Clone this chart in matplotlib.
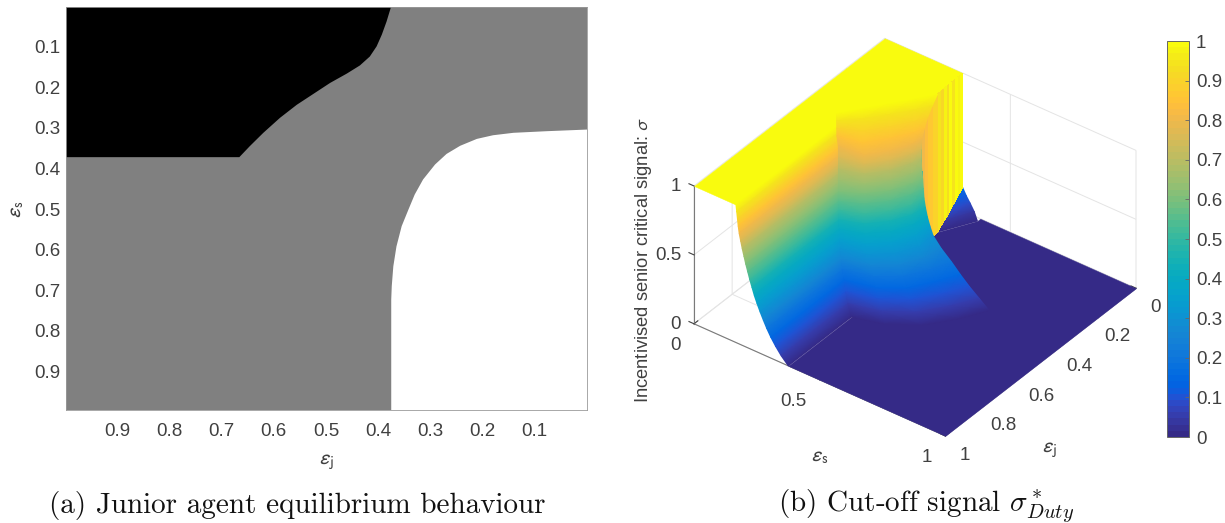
import numpy as np
import matplotlib
matplotlib.use('Agg')
import matplotlib.pyplot as plt
from matplotlib.colors import ListedColormap, Normalize
from matplotlib.cm import ScalarMappable
from matplotlib.collections import QuadMesh
from mpl_toolkits.mplot3d import proj3d
from mpl_toolkits.mplot3d.art3d import Poly3DCollection

plt.rcParams['font.family'] = ['Liberation Sans', 'DejaVu Sans']
W, H = 1225, 523
TXT = '#404040'

parula = [
(.2081,.1663,.5292),(.2116,.1898,.5777),(.2123,.2138,.6270),(.2081,.2386,.6771),
(.1959,.2645,.7279),(.1707,.2919,.7792),(.1253,.3242,.8303),(.0591,.3598,.8683),
(.0117,.3875,.8820),(.0060,.4086,.8828),(.0165,.4266,.8786),(.0329,.4430,.8720),
(.0498,.4586,.8641),(.0629,.4737,.8554),(.0723,.4887,.8467),(.0779,.5040,.8384),
(.0793,.5200,.8312),(.0749,.5375,.8263),(.0641,.5570,.8240),(.0488,.5772,.8228),
(.0343,.5966,.8199),(.0265,.6137,.8135),(.0239,.6287,.8038),(.0231,.6418,.7913),
(.0228,.6535,.7768),(.0267,.6642,.7607),(.0384,.6743,.7436),(.0590,.6838,.7254),
(.0843,.6928,.7062),(.1133,.7015,.6859),(.1453,.7098,.6646),(.1801,.7177,.6424),
(.2178,.7250,.6193),(.2586,.7317,.5954),(.3022,.7376,.5712),(.3482,.7424,.5473),
(.3953,.7459,.5244),(.4420,.7481,.5033),(.4871,.7491,.4840),(.5300,.7491,.4661),
(.5709,.7485,.4494),(.6099,.7473,.4337),(.6473,.7456,.4188),(.6834,.7435,.4044),
(.7184,.7411,.3905),(.7525,.7384,.3768),(.7858,.7356,.3633),(.8185,.7327,.3498),
(.8507,.7299,.3360),(.8824,.7274,.3217),(.9139,.7258,.3063),(.9450,.7261,.2886),
(.9739,.7314,.2666),(.9938,.7455,.2403),(.9990,.7653,.2164),(.9955,.7861,.1967),
(.9880,.8066,.1794),(.9789,.8271,.1633),(.9697,.8481,.1475),(.9626,.8705,.1309),
(.9589,.8949,.1132),(.9598,.9218,.0948),(.9661,.9514,.0755),(.9763,.9831,.0538)]
cmap = ListedColormap(parula, name='parula')
norm = Normalize(0, 1)

# ---- panel (a): region boundaries
black_ej = [1.0, .666, .646, .620, .588, .556, .524, .492, .460, .435, .416, .403, .393, .384, .375, 1.0]
black_es = [.372, .372, .345, .312, .275, .243, .216, .189, .166, .146, .124, .099, .070, .038, 0.0, 0.0]
white_ej = [.375, .375, .374, .371, .365, .355, .342, .330, .314, .291, .269, .243, .211, .180, .141, .077, 0.0, 0.0, .375]
white_es = [1.0, .723, .690, .641, .592, .542, .501, .464, .427, .390, .364, .344, .327, .318, .312, .308, .304, 1.0, 1.0]
a_ticks = [.1, .2, .3, .4, .5, .6, .7, .8, .9]
a_labels = ['0.1', '0.2', '0.3', '0.4', '0.5', '0.6', '0.7', '0.8', '0.9']

# ---- panel (b): surface, one row per height level
sheet_z = [1, .95, .9, .85, .8, .75, .7, .65, .6, .55, .5, .45, .4, .35, .3, .25, .2, .15, .1, .05, 0]
# left block: independent of ej, from the ej=1 edge to the crease
edge_es = [.167,.170,.173,.176,.180,.186,.192,.199,.206,.214,.222,.231,.240,.251,.263,.276,.290,.306,.325,.347,.375]
edge_ej_c = [.461,.465,.468,.473,.48,.488,.497,.505,.513,.522,.531,.542,.553,.566,.577,.589,.602,.615,.63,.648,.667]
# right block: from the crease round to the boundary of the white region
c_es = [.124,.126,.128,.13,.145,.16,.175,.19,.206,.214,.222,.231,.24,.251,.263,.276,.29,.306,.325,.347,.375]
c_ej = [.416,.418,.42,.422,.434,.453,.473,.493,.512,.521,.53,.542,.553,.565,.576,.589,.601,.614,.63,.648,.667]
m1_es = [.17,.18,.20,.22,.24,.247,.255,.265,.275,.285,.295,.307,.318,.333,.35,.37,.39,.41,.43,.455,.48]
m1_ej = [.35,.365,.385,.405,.425,.435,.447,.46,.472,.486,.50,.512,.525,.537,.549,.56,.572,.585,.60,.617,.635]
m2_es = [.22,.235,.255,.27,.292,.30,.31,.32,.33,.34,.35,.362,.377,.393,.415,.44,.465,.49,.515,.545,.577]
m2_ej = [.28,.295,.315,.335,.355,.367,.38,.395,.41,.425,.44,.452,.465,.477,.489,.50,.513,.527,.54,.555,.57]
m3_es = [.27,.285,.30,.312,.325,.332,.34,.352,.362,.373,.385,.397,.41,.43,.453,.48,.51,.54,.575,.612,.65]
m3_ej = [.21,.225,.245,.265,.285,.298,.31,.325,.34,.358,.375,.385,.395,.405,.415,.425,.435,.445,.453,.462,.47]
bnd_es = [.316,.318,.322,.328,.334,.342,.35,.362,.375,.385,.395,.407,.42,.434,.45,.49,.54,.58,.62,.66,.70]
bnd_ej = [.14,.17,.20,.225,.246,.26,.27,.283,.295,.305,.315,.323,.33,.335,.34,.35,.36,.367,.372,.374,.376]

plateau_es = [0, 0, .167, .167, .124, .17, .22, .27, .316, .31]
plateau_ej = [0, 1, 1, .461, .416, .35, .28, .21, .14, 0]
floor_es = [.375, .375, .31, .38, .38, 1, 1]
floor_ej = [1, .667, .15, .015, 0, 0, 1]

cliff_es = [.31, .3105, .311, .3115, .312, .3125, .313, .3135, .314, .316, .318, .322, .328, .334, .342, .35, .362, .375]
cliff_ej = [0, .015, .03, .045, .06, .075, .09, .105, .12, .14, .17, .20, .225, .246, .26, .27, .283, .295]
cliff_top = [1, 1, 1, 1, 1, 1, 1, 1, 1, 1, .95, .9, .85, .8, .75, .7, .65, .6]
cliff_bot = [.17, .15, .13, .11, .09, .07, .05, .035, .02, 0, 0, 0, 0, 0, 0, 0, 0, 0]
cliff_val = [1, .97, 1, .95, 1, .93, .98, .92, .95, .9, .86, .84, .8, .72, .62, .55, .45, .4]

patch_z = [.17, .12, .08, .04, 0]
patch_l_es = [.31, .31, .31, .31, .31]
patch_l_ej = [0, .045, .08, .115, .15]
patch_r_es = [.31, .325, .34, .36, .38]
patch_r_ej = [0, 0, 0, .005, .015]

fig = plt.figure(figsize=(W / 100, H / 100), dpi=100)

def box(x0, y0, x1, y1):
    return [x0 / W, 1 - y1 / H, (x1 - x0) / W, (y1 - y0) / H]

# ---------- left panel
ax = fig.add_axes(box(66, 7, 587, 410))
ax.set_facecolor('#808080')
ax.fill(black_ej, black_es, color='black', lw=0)
ax.fill(white_ej, white_es, color='white', lw=0)
ax.set_xlim(.998, .0)
ax.set_ylim(.995, .002)
ax.set_xticks(a_ticks[::-1], a_labels[::-1])
ax.set_yticks(a_ticks, a_labels)
ax.tick_params(length=0, labelsize=13.5, labelcolor=TXT, pad=9)
ax.tick_params(axis='y', pad=4)
for s in ax.spines.values():
    s.set_color('#9a9a9a')
    s.set_linewidth(.6)
fig.text(327 / W, 1 - 462 / H, r'$\epsilon_{\mathrm{j}}$', fontsize=15, color=TXT,
         ha='center', va='center', math_fontfamily='stixsans')
fig.text(17 / W, 1 - 209 / H, r'$\epsilon_{\mathrm{s}}$', fontsize=15, color=TXT, rotation=90,
         ha='center', va='center', math_fontfamily='stixsans')

# ---------- right panel
ax3 = fig.add_axes(box(600, 0, 1150, 523), projection='3d', computed_zorder=False, proj_type='ortho')
ax3.patch.set_alpha(0)
ax3.view_init(elev=36, azim=-52.8)
ax3.set_box_aspect((1, 1, .54), zoom=1)
ax3.set_xlim(0, 1, view_margin=0)
ax3.set_ylim(1, 0, view_margin=0)
ax3.set_zlim(0, 1, view_margin=0)

def poly(es, ej, z, color, zorder):
    v = [list(zip(es, ej, z))]
    pc = Poly3DCollection(v, facecolors=[color], edgecolors=[color], linewidths=.3, zorder=zorder)
    ax3.add_collection3d(pc)

def shaded(X, Y, Z, zorder):
    """The read mesh, projected by the axes and drawn with matplotlib's own Gouraud shading."""
    a, b, _ = proj3d.proj_transform(X.ravel(), Y.ravel(), Z.ravel(), ax3.get_proj())
    coords = np.dstack([np.reshape(a, X.shape), np.reshape(b, X.shape)])
    mesh = QuadMesh(coords, shading='gouraud', antialiased=False, cmap=cmap, norm=norm,
                    transform=ax3.transData, zorder=zorder)
    mesh.set_array(Z.ravel())
    mesh.set_clip_on(False)
    mesh.do_3d_projection = lambda: 0
    matplotlib.axes.Axes.add_collection(ax3, mesh, autolim=False)

poly(plateau_es, plateau_ej, [1] * len(plateau_es), cmap(1.0), 2)
poly(floor_es, floor_ej, [0] * len(floor_es), cmap(0.0), 3)

pz = np.array(patch_z)
shaded(np.column_stack([patch_l_es, patch_r_es]), np.column_stack([patch_l_ej, patch_r_ej]),
       np.column_stack([pz, pz]), 4)

CX = np.vstack([cliff_es, cliff_es])
CY = np.vstack([cliff_ej, cliff_ej])
CZ = np.vstack([cliff_top, cliff_bot])
cols = cmap(norm(np.vstack([cliff_val, cliff_val])))
ax3.plot_surface(CX, CY, CZ, rstride=1, cstride=1, facecolors=cols, shade=False, linewidth=0,
                 antialiased=False, zorder=5)

n = len(sheet_z)
LX = np.column_stack([edge_es, edge_es])
LY = np.column_stack([np.ones(n), edge_ej_c])
shaded(LX, LY, np.column_stack([sheet_z] * 2), 6)
SX = np.column_stack([c_es, m1_es, m2_es, m3_es, bnd_es])
SY = np.column_stack([c_ej, m1_ej, m2_ej, m3_ej, bnd_ej])
shaded(SX, SY, np.column_stack([sheet_z] * 5), 7)

ax3.set_xticks([0, .5, 1], ['0', '0.5', '1'])
ax3.set_yticks([0, .2, .4, .6, .8, 1], ['0', '0.2', '0.4', '0.6', '0.8', '1'])
ax3.set_zticks([0, .5, 1], ['0', '0.5', '1'])
ax3.tick_params(labelsize=13.5, labelcolor=TXT, colors=TXT)
ax3.tick_params(axis='x', pad=4)
ax3.tick_params(axis='y', pad=5)
ax3.tick_params(axis='z', pad=3)
ax3.zaxis._axinfo['juggled'] = (1, 2, 0)
for a in (ax3.xaxis, ax3.yaxis, ax3.zaxis):
    a.set_pane_color((1, 1, 1, 0))
    a.pane.set_edgecolor('#e4e4e4')
    a.pane.set_linewidth(.7)
    a.line.set_color('#7a7a7a')
    a.line.set_linewidth(.8)
    a._axinfo['grid'].update(color='#e4e4e4', linewidth=.7)
    a._axinfo['tick'].update(inward_factor=0, outward_factor=.25)
    a._axinfo['tick']['color'] = '#7a7a7a'

def nudge(axis, dx, dy, ha):
    """Shift a 3-D axis's own tick labels by some pixels at draw time."""
    for t in axis.get_major_ticks():
        lab = t.label1
        lab.set_ha(ha)
        def draw(renderer, lab=lab, orig=lab.draw):
            p = ax3.transData.transform(lab.get_position()) + (dx, dy)
            lab.set_position(ax3.transData.inverted().transform(p))
            orig(renderer)
        lab.draw = draw
nudge(ax3.xaxis, 0, 7, 'right')
nudge(ax3.yaxis, 1, 8, 'center')
nudge(ax3.zaxis, 15, 10, 'right')

fig.canvas.draw()
def px(x, y, z):
    a, b, _ = proj3d.proj_transform(x, y, z, ax3.get_proj())
    return ax3.transData.transform((a, b))
# fit the orthographic box onto the reference's left and right floor corners
pl, pr = px(0, 1, 0), px(1, 0, 0)
target_l = np.array([694, H - 324.0])
target_r = np.array([1136, H - 288.0])
pos = ax3.get_position()
scale = (target_r[0] - target_l[0]) / (pr[0] - pl[0])
side = pos.width * W * scale
cx0 = (pos.x0 + pos.width / 2) * W
cy0 = (pos.y0 + pos.height / 2) * H
mid_now = (pl + pr) / 2
mid_t = (target_l + target_r) / 2
cx = mid_t[0] + (cx0 - mid_now[0]) * scale
cy = mid_t[1] + (cy0 - mid_now[1]) * scale
ax3.set_position([(cx - side / 2) / W, (cy - side / 2) / H, side / W, side / H])

fig.text(643 / W, 1 - 260 / H, r'Incentivised senior critical signal: $\sigma$', rotation=90, fontsize=13.2,
         color=TXT, ha='center', va='center', math_fontfamily='stixsans')
fig.text(820 / W, 1 - 457 / H, r'$\epsilon_{\mathrm{s}}$', fontsize=15, color=TXT, ha='center', va='center',
         math_fontfamily='stixsans')
fig.text(1050 / W, 1 - 450 / H, r'$\epsilon_{\mathrm{j}}$', fontsize=15, color=TXT, ha='center', va='center',
         math_fontfamily='stixsans')

# ---------- colorbar
cax = fig.add_axes(box(1167, 41, 1189, 437))
cb = fig.colorbar(ScalarMappable(norm=norm, cmap=cmap), cax=cax)
cb.set_ticks([0, .1, .2, .3, .4, .5, .6, .7, .8, .9, 1], labels=['0', '0.1', '0.2', '0.3', '0.4', '0.5', '0.6', '0.7', '0.8', '0.9', '1'])
cax.tick_params(direction='in', length=3, width=.6, color='#666666', labelsize=13.5, labelcolor=TXT, pad=5)
cb.outline.set_edgecolor('#666666')
cb.outline.set_linewidth(.7)

# ---------- captions
fig.text(297.5 / W, 1 - 506 / H, '(a) Junior agent equilibrium behaviour', family='cmr10', fontsize=21,
         color='#111111', ha='center', va='center')
fig.text(926 / W, 1 - 506 / H, r'(b) Cut-off signal $\sigma^*_{Duty}$', family='cmr10', fontsize=21,
         color='#111111', ha='center', va='center', math_fontfamily='cm')

fig.savefig('out.png', dpi=100)
